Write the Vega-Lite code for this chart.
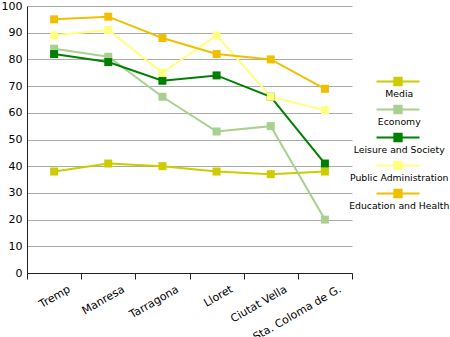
{
  "$schema": "https://vega.github.io/schema/vega-lite/v6.json",
  "width": 325,
  "height": 267,
  "autosize": {"type": "none"},
  "padding": {"left": 27, "top": 6, "right": 98, "bottom": 64},
  "background": "white",
  "data": {
    "values": [
      {"city": "Tremp", "category": "Media", "value": 38},
      {"city": "Manresa", "category": "Media", "value": 41},
      {"city": "Tarragona", "category": "Media", "value": 40},
      {"city": "Lloret", "category": "Media", "value": 38},
      {"city": "Ciutat Vella", "category": "Media", "value": 37},
      {"city": "Sta. Coloma de G.", "category": "Media", "value": 38},
      {"city": "Tremp", "category": "Economy", "value": 84},
      {"city": "Manresa", "category": "Economy", "value": 81},
      {"city": "Tarragona", "category": "Economy", "value": 66},
      {"city": "Lloret", "category": "Economy", "value": 53},
      {"city": "Ciutat Vella", "category": "Economy", "value": 55},
      {"city": "Sta. Coloma de G.", "category": "Economy", "value": 20},
      {"city": "Tremp", "category": "Leisure and Society", "value": 82},
      {"city": "Manresa", "category": "Leisure and Society", "value": 79},
      {"city": "Tarragona", "category": "Leisure and Society", "value": 72},
      {"city": "Lloret", "category": "Leisure and Society", "value": 74},
      {"city": "Ciutat Vella", "category": "Leisure and Society", "value": 66},
      {"city": "Sta. Coloma de G.", "category": "Leisure and Society", "value": 41},
      {"city": "Tremp", "category": "Public Administration", "value": 89},
      {"city": "Manresa", "category": "Public Administration", "value": 91},
      {"city": "Tarragona", "category": "Public Administration", "value": 75},
      {"city": "Lloret", "category": "Public Administration", "value": 89},
      {"city": "Ciutat Vella", "category": "Public Administration", "value": 66},
      {"city": "Sta. Coloma de G.", "category": "Public Administration", "value": 61},
      {"city": "Tremp", "category": "Education and Health", "value": 95},
      {"city": "Manresa", "category": "Education and Health", "value": 96},
      {"city": "Tarragona", "category": "Education and Health", "value": 88},
      {"city": "Lloret", "category": "Education and Health", "value": 82},
      {"city": "Ciutat Vella", "category": "Education and Health", "value": 80},
      {"city": "Sta. Coloma de G.", "category": "Education and Health", "value": 69}
    ]
  },
  "encoding": {
    "x": {
      "field": "city",
      "type": "nominal",
      "sort": ["Tremp", "Manresa", "Tarragona", "Lloret", "Ciutat Vella", "Sta. Coloma de G."],
      "scale": {"type": "band", "paddingInner": 0, "paddingOuter": 0},
      "bandPosition": 0.5,
      "axis": {
        "title": null,
        "tickBand": "extent",
        "labelAngle": -30,
        "labelAlign": "right",
        "labelBaseline": "top",
        "labelOffset": 12,
        "labelPadding": 4,
        "tickSize": 6,
        "tickColor": "#222222",
        "domainColor": "#222222",
        "labelFont": "DejaVu Sans",
        "labelFontSize": 11,
        "labelColor": "#000000",
        "grid": false
      }
    },
    "y": {
      "field": "value",
      "type": "quantitative",
      "scale": {"domain": [0, 100], "nice": false},
      "axis": {
        "title": null,
        "values": [0, 10, 20, 30, 40, 50, 60, 70, 80, 90, 100],
        "grid": true,
        "gridColor": "#aaaaaa",
        "gridOpacity": 1,
        "tickSize": 0,
        "labelPadding": 5,
        "domainColor": "#222222",
        "labelFont": "DejaVu Sans",
        "labelFontSize": 11,
        "labelColor": "#000000"
      }
    },
    "color": {
      "field": "category",
      "type": "nominal",
      "scale": {
        "domain": ["Media", "Economy", "Leisure and Society", "Public Administration", "Education and Health"],
        "range": ["#cccc00", "#a9d18e", "#008000", "#ffff80", "#f0c000"]
      },
      "legend": {
        "title": null,
        "orient": "none",
        "legendX": 359,
        "legendY": 72,
        "symbolType": "M-2,-0.79L2,-0.79M-0.34,-1.13L0.34,-1.13L0.34,-0.45L-0.34,-0.45Z",
        "symbolSize": 462,
        "symbolStrokeWidth": 2,
        "labelAlign": "center",
        "labelBaseline": "top",
        "labelOffset": -10.75,
        "labelFont": "DejaVu Sans",
        "labelFontSize": 9.3,
        "labelColor": "#000000",
        "labelLimit": 200,
        "rowPadding": 1
      }
    }
  },
  "layer": [
    {"mark": {"type": "line", "strokeWidth": 2}},
    {"mark": {"type": "point", "shape": "square", "filled": true, "size": 64, "opacity": 1}}
  ],
  "config": {"view": {"stroke": null}}
}
